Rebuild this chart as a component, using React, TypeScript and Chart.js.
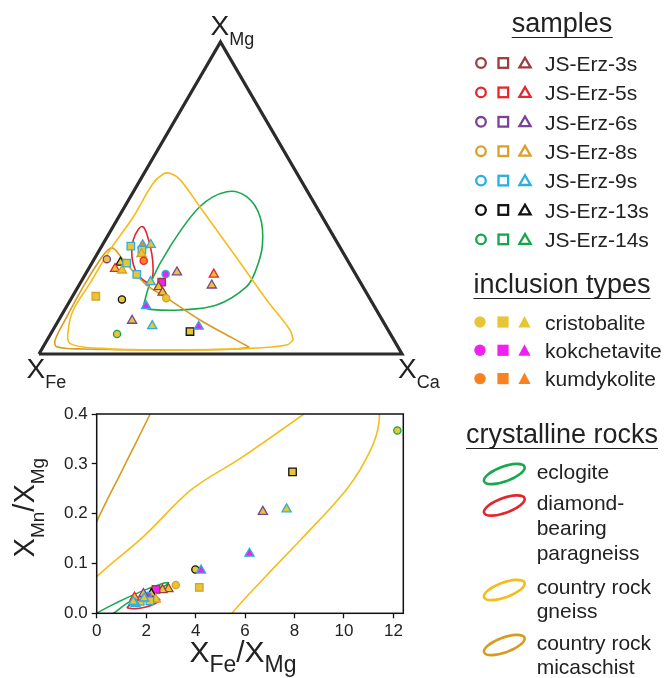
import React, { useEffect, useRef } from 'react';
import { Chart, registerables } from 'chart.js';

Chart.register(...registerables);

const FONT = '"Liberation Sans", Arial, Helvetica, sans-serif';
const INK = '#222222';

// ---- legend categories ----
const sampleNames = ['JS-Erz-3s', 'JS-Erz-5s', 'JS-Erz-6s', 'JS-Erz-8s', 'JS-Erz-9s', 'JS-Erz-13s', 'JS-Erz-14s'];
const sampleColors = ['#9B3D3D', '#E8262B', '#7B4397', '#DCA02A', '#2BAFE2', '#111111', '#15A64C'];
const inclusionNames = ['cristobalite', 'kokchetavite', 'kumdykolite'];
const inclusionColors = ['#E7C535', '#F020F0', '#F7821F'];
const rockLabels = [['eclogite'], ['diamond-', 'bearing', 'paragneiss'], ['country rock', 'gneiss'], ['country rock', 'micaschist']];
const rockColors = ['#18A84E', '#E3262D', '#F6BC1C', '#D99B1F'];

// ---- ternary Fe–Mg–Ca data (X_Fe = 1 - X_Mg - X_Ca) ----
const ternMg = [0.304, 0.293, 0.273, 0.268, 0.291, 0.346, 0.349, 0.350, 0.333, 0.321, 0.299, 0.255, 0.231, 0.256, 0.230, 0.215, 0.197, 0.179, 0.262, 0.255, 0.220, 0.185, 0.175, 0.154, 0.107, 0.090, 0.064, 0.072, 0.088];
const ternCa = [0.035, 0.078, 0.073, 0.095, 0.096, 0.080, 0.111, 0.133, 0.117, 0.122, 0.139, 0.142, 0.192, 0.221, 0.223, 0.222, 0.242, 0.261, 0.249, 0.354, 0.366, 0.064, 0.141, 0.218, 0.203, 0.267, 0.183, 0.380, 0.396];
const ternShape = ['c', 't', 't', 't', 's', 's', 't', 't', 's', 't', 'c', 's', 't', 'c', 's', 't', 't', 'c', 't', 't', 't', 's', 'c', 't', 't', 't', 'c', 's', 't'];
const ternSample = [2, 5, 1, 3, 4, 4, 4, 4, 4, 3, 1, 4, 4, 4, 0, 0, 0, 3, 2, 1, 2, 3, 5, 4, 2, 4, 6, 5, 4];
const ternIncl = [0, 0, 0, 0, 0, 0, 2, 0, 0, 0, 2, 0, 0, 1, 1, 0, 0, 0, 0, 0, 0, 0, 0, 1, 0, 0, 0, 0, 1];

// crystalline-rock fields in the ternary, as [X_Mg, X_Ca]
const eclogiteTern = [[0.152, 0.211], [0.227, 0.193], [0.344, 0.189], [0.472, 0.207], [0.520, 0.257], [0.504, 0.320], [0.440, 0.389], [0.349, 0.441], [0.269, 0.463], [0.216, 0.464], [0.157, 0.411], [0.141, 0.318], [0.143, 0.235], [0.152, 0.211]];
const paragneissTern = [[0.227, 0.197], [0.229, 0.182], [0.259, 0.140], [0.312, 0.100], [0.365, 0.077], [0.400, 0.074], [0.408, 0.082], [0.387, 0.103], [0.323, 0.149], [0.269, 0.180], [0.227, 0.197]];
const gneissTern = [[0.045, 0.678], [0.029, 0.668], [0.018, 0.572], [0.013, 0.345], [0.018, 0.159], [0.034, 0.068], [0.077, 0.042], [0.141, 0.024], [0.227, 0.027], [0.333, 0.029], [0.440, 0.040], [0.547, 0.041], [0.577, 0.054], [0.579, 0.071], [0.558, 0.110], [0.472, 0.207], [0.323, 0.374], [0.173, 0.541], [0.077, 0.653], [0.045, 0.678]];
const micaschistTern = [[0.0215, 0.569], [0.015, 0.528], [0.013, 0.345], [0.016, 0.114], [0.023, 0.037], [0.045, 0.022], [0.120, 0.017], [0.216, 0.014], [0.301, 0.017], [0.333, 0.023], [0.339, 0.035], [0.301, 0.082], [0.264, 0.128], [0.221, 0.186], [0.179, 0.263], [0.109, 0.389], [0.050, 0.510], [0.0215, 0.569]];

// ---- X_Fe/X_Mg vs X_Mn/X_Mg data ----
const ratioFeMg = [12.16, 7.92, 6.72, 7.68, 6.18, 3.99, 4.22, 4.15, 3.20, 2.90, 2.66, 2.40, 2.21, 2.07, 1.89, 2.39, 2.15, 1.76, 1.53, 1.57, 1.48, 1.92];
const ratioMnMg = [0.367, 0.284, 0.204, 0.209, 0.120, 0.088, 0.086, 0.052, 0.057, 0.049, 0.047, 0.048, 0.039, 0.035, 0.039, 0.028, 0.025, 0.024, 0.032, 0.019, 0.023, 0.030];
const ratioShape = ['c', 's', 't', 't', 't', 'c', 't', 's', 'c', 't', 't', 's', 't', 'c', 't', 't', 's', 's', 't', 't', 't', 't'];
const ratioSample = [6, 5, 2, 4, 4, 5, 4, 3, 3, 0, 0, 0, 5, 4, 2, 3, 4, 4, 1, 4, 4, 4];
const ratioIncl = [0, 0, 0, 0, 1, 0, 1, 0, 0, 0, 0, 1, 0, 1, 0, 0, 0, 0, 0, 2, 0, 0];
const feMgTicks = [0, 2, 4, 6, 8, 10, 12];
const mnMgTicks = [0, 0.1, 0.2, 0.3, 0.4];

// rock fields in ratio space (they run past the plotted window and are clipped)
const eclogiteRatio = [[-0.3, -0.012], [0, 0], [0.8, 0.021], [1.76, 0.043], [2.55, 0.058], [2.9, 0.0615], [2.72, 0.054], [2.3, 0.045], [1.76, 0.0335], [1.22, 0.02], [0.68, 0], [0.2, -0.012], [-0.3, -0.012]];
const paragneissRatio = [[1.22, 0.011], [1.4, 0.019], [1.75, 0.026], [2.1, 0.030], [2.42, 0.031], [2.55, 0.027], [2.35, 0.019], [1.95, 0.012], [1.55, 0.009], [1.22, 0.011]];
const gneissRatio = [[5.3, -0.02], [5.47, 0], [6.89, 0.077], [8.24, 0.147], [10.14, 0.251], [11.08, 0.328], [11.42, 0.385], [11.3, 0.43], [10.7, 0.46], [9.6, 0.445], [8.38, 0.40], [5.81, 0.311], [3.85, 0.249], [1.89, 0.154], [0, 0.0736], [-1, 0.02], [-0.8, -0.05], [1, -0.1], [3.5, -0.08], [5.3, -0.02]];
const micaschistRatio = [[-0.5, 0.12], [0, 0.184], [1.08, 0.292], [2.16, 0.4], [2.5, 0.44]];

const SQ3_2 = Math.sqrt(3) / 2;
const toCart = (mg: number, ca: number) => ({ x: ca + mg / 2, y: mg * SQ3_2 });
const pointStyles: Record<string, string> = { c: 'circle', s: 'rect', t: 'triangle' };
const pointSizes: Record<string, number> = { c: 3.6, s: 5.3, t: 5.3 };

type Part = { t: string; size: number; dy: number };
function drawRich(ctx: CanvasRenderingContext2D, parts: Part[], x: number, y: number, align: 'left' | 'center') {
  const widths = parts.map((p) => {
    ctx.font = `${p.size}px ${FONT}`;
    return ctx.measureText(p.t).width;
  });
  const total = widths.reduce((a, b) => a + b, 0);
  let cx = align === 'center' ? x - total / 2 : x;
  ctx.textAlign = 'left';
  ctx.textBaseline = 'alphabetic';
  parts.forEach((p, i) => {
    ctx.font = `${p.size}px ${FONT}`;
    ctx.fillText(p.t, cx, y + p.dy);
    cx += widths[i];
  });
}

function markerDataset(xs: number[], ys: number[], shapes: string[], samples: number[], incl: number[]) {
  return {
    label: 'garnet',
    data: xs.map((x, i) => ({ x, y: ys[i] })),
    showLine: false,
    pointStyle: shapes.map((s) => pointStyles[s]),
    pointRadius: shapes.map((s) => pointSizes[s]),
    pointBackgroundColor: incl.map((k) => inclusionColors[k]),
    pointBorderColor: samples.map((k) => sampleColors[k]),
    pointBorderWidth: 1.3,
    order: 0,
  };
}

function curveDataset(points: { x: number; y: number }[], color: string) {
  return {
    label: 'field',
    data: points,
    showLine: true,
    borderColor: color,
    borderWidth: 1.6,
    pointRadius: 0,
    tension: 0.35,
    fill: false,
    order: 1,
  };
}

function ternaryConfig(): any {
  const tPts = ternMg.map((mg, i) => toCart(mg, ternCa[i]));
  const fields = [
    [gneissTern, rockColors[2]],
    [micaschistTern, rockColors[3]],
    [eclogiteTern, rockColors[0]],
    [paragneissTern, rockColors[1]],
  ] as [number[][], string][];
  const labels = {
    id: 'ternaryLabels',
    afterDraw(chart: any) {
      const { ctx, scales } = chart;
      const px = (cx: number, cy: number) => [scales.x.getPixelForValue(cx), scales.y.getPixelForValue(cy)];
      const fe = px(0, 0);
      const ca = px(1, 0);
      const mg = px(0.5, SQ3_2);
      ctx.save();
      ctx.fillStyle = INK;
      drawRich(ctx, [{ t: 'X', size: 28, dy: 0 }, { t: 'Mg', size: 18, dy: 10 }], mg[0] - 10, mg[1] - 7, 'left');
      drawRich(ctx, [{ t: 'X', size: 28, dy: 0 }, { t: 'Fe', size: 18, dy: 10 }], fe[0] - 12.5, fe[1] + 24, 'left');
      drawRich(ctx, [{ t: 'X', size: 28, dy: 0 }, { t: 'Ca', size: 18, dy: 10 }], ca[0] - 4, ca[1] + 24, 'left');
      ctx.restore();
    },
  };
  return {
    type: 'scatter',
    data: {
      datasets: [
        markerDataset(tPts.map((p) => p.x), tPts.map((p) => p.y), ternShape, ternSample, ternIncl),
        ...fields.map(([pts, col]) => curveDataset(pts.map(([m, c]) => toCart(m, c)), col)),
        {
          label: 'frame',
          data: [toCart(0, 0), toCart(0, 1), toCart(1, 0), toCart(0, 0)],
          showLine: true,
          borderColor: '#2b2b2b',
          borderWidth: 3.2,
          borderJoinStyle: 'miter',
          pointRadius: 0,
          tension: 0,
          clip: false,
          order: 2,
        },
      ],
    },
    options: {
      animation: false,
      responsive: false,
      events: [],
      layout: { padding: 0, autoPadding: false },
      plugins: { legend: { display: false }, tooltip: { enabled: false } },
      scales: {
        x: { type: 'linear', display: false, min: -0.1074, max: 1.1047 },
        y: { type: 'linear', display: false, min: -0.1277, max: 0.9825 },
      },
    },
    plugins: [labels],
  };
}

function ratioConfig(): any {
  const pt = (a: number[][]) => a.map(([x, y]) => ({ x, y }));
  const deco = {
    id: 'ratioDeco',
    afterDatasetsDraw(chart: any) {
      const { ctx, chartArea: a } = chart;
      ctx.save();
      ctx.strokeStyle = '#111';
      ctx.lineWidth = 1.5;
      ctx.strokeRect(a.left, a.top, a.right - a.left, a.bottom - a.top);
      ctx.restore();
    },
    afterDraw(chart: any) {
      const { ctx, chartArea: a } = chart;
      ctx.save();
      ctx.fillStyle = INK;
      drawRich(ctx, [
        { t: 'X', size: 30, dy: 0 }, { t: 'Fe', size: 23, dy: 10 },
        { t: '/', size: 30, dy: 0 },
        { t: 'X', size: 30, dy: 0 }, { t: 'Mg', size: 23, dy: 10 },
      ], (a.left + a.right) / 2 - 7, a.bottom + 48.5, 'center');
      ctx.translate(33.5, (a.top + a.bottom) / 2 - 6);
      ctx.rotate(-Math.PI / 2);
      drawRich(ctx, [
        { t: 'X', size: 29, dy: 0 }, { t: 'Mn', size: 19, dy: 10 },
        { t: '/', size: 29, dy: 0 },
        { t: 'X', size: 29, dy: 0 }, { t: 'Mg', size: 19, dy: 10 },
      ], 0, 0, 'center');
      ctx.restore();
    },
  };
  const tickFont = { family: FONT, size: 17 };
  const grid = { display: true, drawOnChartArea: false, drawTicks: true, tickLength: 5, tickColor: '#111', tickWidth: 1.3 };
  return {
    type: 'scatter',
    data: {
      datasets: [
        markerDataset(ratioFeMg, ratioMnMg, ratioShape, ratioSample, ratioIncl),
        curveDataset(pt(gneissRatio), rockColors[2]),
        curveDataset(pt(micaschistRatio), rockColors[3]),
        curveDataset(pt(eclogiteRatio), rockColors[0]),
        curveDataset(pt(paragneissRatio), rockColors[1]),
      ],
    },
    options: {
      animation: false,
      responsive: false,
      events: [],
      layout: { padding: { top: 24, right: 26.7, left: 0, bottom: 0 }, autoPadding: false },
      plugins: { legend: { display: false }, tooltip: { enabled: false } },
      scales: {
        x: {
          type: 'linear', min: 0, max: 12.4,
          ticks: { font: tickFont, color: INK, padding: 3, maxRotation: 0, autoSkip: false },
          grid, border: { display: false },
          afterBuildTicks: (s: any) => { s.ticks = feMgTicks.map((value) => ({ value })); },
          afterFit: (s: any) => { s.height = 64.7; },
        },
        y: {
          type: 'linear', min: 0, max: 0.4,
          ticks: { font: tickFont, color: INK, padding: 4, autoSkip: false, callback: (v: number) => v.toFixed(1) },
          grid, border: { display: false },
          afterBuildTicks: (s: any) => { s.ticks = mnMgTicks.map((value) => ({ value })); },
          afterFit: (s: any) => { s.width = 96.7; },
        },
      },
    },
    plugins: [deco],
  };
}

function LegendText({ x, baseline, size, children, center, underline }: any) {
  const asc = 0.8465 * size;
  const inner = underline ? (
    <span style={{ display: 'inline-block', height: asc + 4.3, borderBottom: `1.7px solid ${INK}`, lineHeight: `${size}px`, verticalAlign: 'top' }}>{children}</span>
  ) : children;
  return (
    <div style={{
      position: 'absolute', left: x, top: baseline - asc, fontSize: size, lineHeight: `${size}px`,
      whiteSpace: 'nowrap', transform: center ? 'translateX(-50%)' : undefined, color: INK,
    }}>{inner}</div>
  );
}

function Legend() {
  const sampleY = sampleNames.map((_, i) => 63 + i * 29.4);
  const inclY = [322, 350.3, 378.6];
  const rockY = [474, 505.5, 590, 645];
  const rockBase = [[478.3], [510, 535, 560], [593.3, 617.7], [650, 673.3]];
  const shapes: any[] = [];
  sampleColors.forEach((col, i) => {
    const cy = sampleY[i];
    shapes.push(<circle key={`sc${i}`} cx={481} cy={cy} r={4.8} fill="none" stroke={col} strokeWidth={2.3} />);
    shapes.push(<rect key={`ss${i}`} x={503.3 - 4.8} y={cy - 4.8} width={9.6} height={9.6} fill="none" stroke={col} strokeWidth={2.3} />);
    shapes.push(<polygon key={`st${i}`} points={`525,${cy - 5.3} 530.6,${cy + 4.4} 519.4,${cy + 4.4}`} fill="none" stroke={col} strokeWidth={2.3} strokeLinejoin="miter" />);
  });
  inclusionColors.forEach((col, i) => {
    const cy = inclY[i];
    shapes.push(<circle key={`ic${i}`} cx={480} cy={cy} r={5.7} fill={col} />);
    shapes.push(<rect key={`is${i}`} x={503 - 5.6} y={cy - 5.6} width={11.2} height={11.2} fill={col} />);
    shapes.push(<polygon key={`it${i}`} points={`524.5,${cy - 6} 530.6,${cy + 5.5} 518.4,${cy + 5.5}`} fill={col} />);
  });
  rockColors.forEach((col, i) => {
    shapes.push(<ellipse key={`re${i}`} cx={504.3} cy={rockY[i]} rx={21.5} ry={7.4} fill="none" stroke={col} strokeWidth={2.6} transform={`rotate(-20 504.3 ${rockY[i]})`} />);
  });
  return (
    <>
      <svg width={664} height={678} style={{ position: 'absolute', left: 0, top: 0 }}>{shapes}</svg>
      <LegendText x={562} baseline={33} size={27} center underline>samples</LegendText>
      {sampleNames.map((n, i) => (
        <LegendText key={n} x={545} baseline={sampleY[i] + 7.6} size={21}>{n}</LegendText>
      ))}
      <LegendText x={562} baseline={293.5} size={27} center underline>inclusion types</LegendText>
      {inclusionNames.map((n, i) => (
        <LegendText key={n} x={545} baseline={inclY[i] + 7.6} size={21}>{n}</LegendText>
      ))}
      <LegendText x={562} baseline={443.5} size={27} center underline>crystalline rocks</LegendText>
      {rockLabels.map((lines, i) => lines.map((l, j) => (
        <LegendText key={`${i}-${j}`} x={536.7} baseline={rockBase[i][j]} size={21}>{l}</LegendText>
      )))}
    </>
  );
}

export default function App() {
  const ternRef = useRef<HTMLCanvasElement>(null);
  const ratioRef = useRef<HTMLCanvasElement>(null);

  useEffect(() => {
    document.body.style.margin = '0';
    const ternary = new Chart(ternRef.current as HTMLCanvasElement, ternaryConfig());
    const ratio = new Chart(ratioRef.current as HTMLCanvasElement, ratioConfig());
    return () => {
      ternary.destroy();
      ratio.destroy();
    };
  }, []);

  return (
    <div style={{ position: 'absolute', left: 0, top: 0, width: 664, height: 678, background: '#fff', fontFamily: FONT, overflow: 'hidden' }}>
      <canvas ref={ternRef} width={440} height={400} style={{ position: 'absolute', left: 0, top: 0, width: 440, height: 400 }} />
      <canvas ref={ratioRef} width={430} height={288} style={{ position: 'absolute', left: 0, top: 390, width: 430, height: 288 }} />
      <Legend />
    </div>
  );
}
